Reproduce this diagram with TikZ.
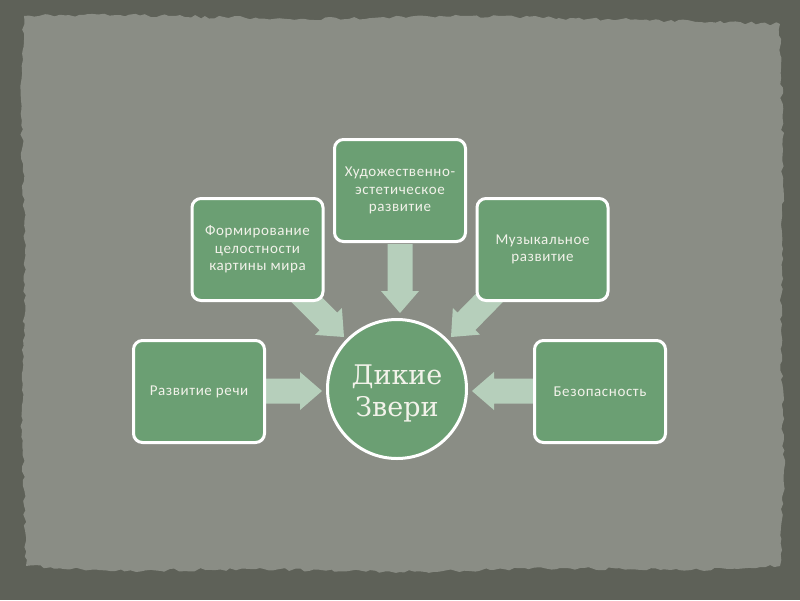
\documentclass[tikz,border=0pt]{standalone}
\usepackage{fontspec}
\setmainfont[LetterSpace=4]{Carlito}
\newfontfamily\circfont{DejaVu Serif}
\usetikzlibrary{calc,decorations.pathmorphing}
\definecolor{frame}{HTML}{5E6158}
\definecolor{paper}{HTML}{8A8D85}
\definecolor{boxgreen}{HTML}{6B9F73}
\definecolor{arrowgreen}{HTML}{B6CFBB}
\definecolor{txt}{HTML}{F2F2EA}
\tikzset{
  infobox/.style={draw=white, line width=3pt, fill=boxgreen, rounded corners=9pt,
    minimum width=131pt, minimum height=102pt, align=center, text=txt,
    font=\fontsize{15}{17.5}\selectfont, inner sep=2pt},
  hub/.style={circle, draw=white, line width=3pt, fill=boxgreen, minimum size=139pt, inner sep=0pt},
  hubtext/.style={align=center, text=txt, font=\circfont\fontsize{27}{32}\selectfont, inner sep=0pt},
  blockarrow/.style={fill=arrowgreen, draw=none}
}
\newcommand{\blkarrow}[2]{%
  \coordinate (hb) at ($(#2)!22pt!(#1)$);
  \fill[blockarrow] ($(#1)!12.5pt!90:(#2)$) -- ($(hb)!12.5pt!-90:(#1)$) --
    ($(hb)!19pt!-90:(#1)$) -- (#2) -- ($(hb)!19pt!90:(#1)$) --
    ($(hb)!12.5pt!90:(#1)$) -- ($(#1)!12.5pt!-90:(#2)$) -- cycle;}
\begin{document}
\begin{tikzpicture}[x=1pt,y=-1pt]
\useasboundingbox (0,0) rectangle (800,600);
\fill[frame] (0,0) rectangle (800,600);
\pgfmathsetseed{7}
\fill[paper, decorate, decoration={random steps, segment length=5pt, amplitude=1.6pt}]
  (24,16) -- (120,15) -- (300,19) -- (470,16) -- (640,20) -- (780,24) -- (783,150)
  -- (781,330) -- (784,470) -- (780,566) -- (700,570) -- (560,568) -- (400,572)
  -- (250,569) -- (110,571) -- (26,566) -- (22,430) -- (25,250) -- (21,100) -- cycle;
% arrow coordinates
\coordinate (lt) at (266,391); \coordinate (lh) at (322,391);
\coordinate (rt) at (533,391); \coordinate (rh) at (472,391);
\coordinate (tt) at (400,244); \coordinate (th) at (400,313);
\coordinate (ult) at (293,286); \coordinate (ulh) at (344,337);
\coordinate (urt) at (503,284); \coordinate (urh) at (451,337);
\blkarrow{lt}{lh}
\blkarrow{rt}{rh}
\blkarrow{tt}{th}
\blkarrow{ult}{ulh}
\blkarrow{urt}{urh}
\node[hub] (center) at (397,389) {};
\node[hubtext] (centerlabel) at (397,393) {Дикие\\Звери};
\node[infobox] (art) at (400,190.5) {Художественно-\\эстетическое\\развитие};
\node[infobox] (world) at (257.5,249.5) {Формирование\\целостности\\картины мира};
\node[infobox] (music) at (542.5,249.5) {Музыкальное\\развитие};
\node[infobox] (speech) at (199,391.5) {Развитие речи};
\node[infobox] (safe) at (600,391.5) {Безопасность};
\end{tikzpicture}
\end{document}
